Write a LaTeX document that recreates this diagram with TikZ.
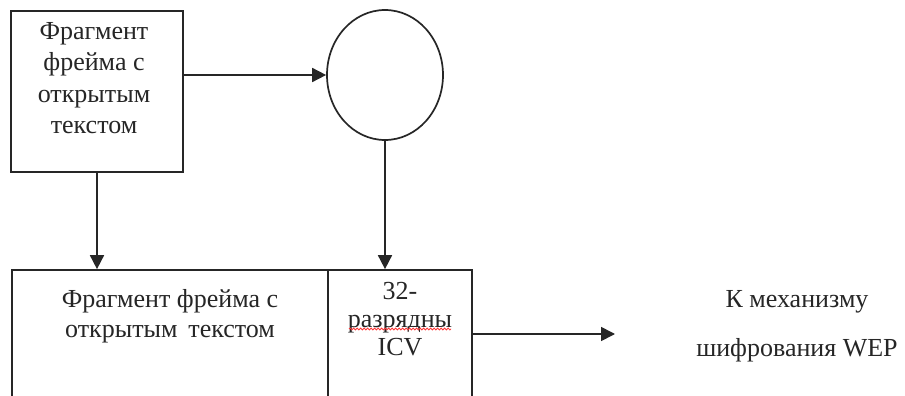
\documentclass[tikz,border=0pt]{standalone}
\usepackage{fontspec}
\setmainfont{Liberation Serif}
\usetikzlibrary{arrows.meta,shapes.geometric,decorations.pathmorphing}
\begin{document}
\begin{tikzpicture}[x=1pt,y=1pt,
  line/.style={draw=black!85,line width=1.7pt},
  arr/.style={line,-{Triangle[length=14pt,width=14pt]}},
  lbl/.style={font=\fontsize{26}{30}\selectfont,align=center,inner sep=0pt,text=black!85},
  boxn/.style={line,rectangle,inner sep=0pt}]
\useasboundingbox[fill=white] (0,0) rectangle (905,-396);
\node[boxn,minimum width=172pt,minimum height=161pt] (top) at (97,-91.5) {};
\node[line,ellipse,minimum width=116pt,minimum height=130pt,inner sep=0pt] (ell) at (385,-75) {};
\node[boxn,minimum width=316pt,minimum height=140pt] (cellA) at (170,-340) {};
\node[boxn,minimum width=144pt,minimum height=140pt] (cellB) at (400,-340) {};
\coordinate (tipK) at (615,-334);
\node[lbl,font=\fontsize{26}{31.5}\selectfont] (toptext) at (94,-78) {Фрагмент\\фрейма с\\открытым\\текстом};
\node[lbl] (atext) at (170,-316) {Фрагмент фрейма с\\открытым\, текстом};
\node[lbl,font=\fontsize{26}{28}\selectfont] (btext) at (400,-319) {32-\\разрядны\\ICV};
\node[lbl] (k1) at (797,-302) {К механизму};
\node[lbl] (k2) at (797,-350) {шифрования WEP};
\draw[red!80,line width=0.8pt,decorate,decoration={snake,amplitude=1pt,segment length=3.5pt}]
  ([xshift=-51pt,yshift=-10pt]btext.center) -- ([xshift=51pt,yshift=-10pt]btext.center);
\draw[arr] (top.east |- ell.west) -- (ell.west);
\draw[arr] (top.south) -- (top.south |- cellA.north);
\draw[arr] (ell.south) -- (ell.south |- cellB.north);
\draw[arr] (cellB.east |- tipK) -- (tipK);
\end{tikzpicture}
\end{document}
